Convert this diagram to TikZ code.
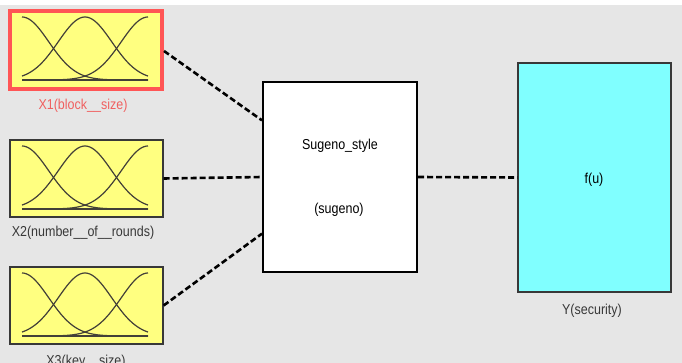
\documentclass[tikz,border=0pt]{standalone}
\usepackage{fontspec}
\setmainfont{Liberation Sans}
\usetikzlibrary{calc}
\definecolor{bg}{HTML}{E6E6E6}
\definecolor{mfyellow}{HTML}{FFFF80}
\definecolor{outcyan}{HTML}{80FFFF}
\definecolor{selred}{HTML}{FF5555}
\definecolor{labred}{HTML}{F06060}
\definecolor{labgray}{HTML}{383838}
\newcommand{\tallt}[1]{\scalebox{1}[1.15]{#1}}
\begin{document}
\begin{tikzpicture}[x=1pt,y=-1pt,
  inbox/.style={draw=labgray,line width=1.2pt,fill=mfyellow,minimum width=153pt,minimum height=77pt,inner sep=0pt},
  selbox/.style={draw=selred,line width=4pt,fill=mfyellow,minimum width=152pt,minimum height=78pt,inner sep=0pt},
  rulebox/.style={draw=black,line width=2pt,fill=white,minimum width=154pt,minimum height=190pt,inner sep=0pt},
  outbox/.style={draw=labgray,line width=1.5pt,fill=outcyan,minimum width=153pt,minimum height=229pt,inner sep=0pt},
  lab/.style={font=\fontsize{12.5}{14}\selectfont,inner sep=0pt},
  conn/.style={line width=2.6pt,dash pattern=on 6pt off 3pt},
  mf/.style={line width=1.2pt,black!85!yellow}]
\useasboundingbox (0,0) rectangle (682,363);
\fill[white] (0,0) rectangle (682,363);
\fill[bg] (0,5) rectangle (682,363);
\begin{scope}
\clip (0,0) rectangle (682,363);
% boxes
\node[selbox] (x1) at (86,50) {};
\node[inbox] (x2) at (86.5,178.5) {};
\node[inbox] (x3) at (86.5,305.5) {};
\node[rulebox] (rule) at (340,177) {};
\node[outbox] (y) at (594.5,177.5) {};
% membership functions
\foreach \bx/\by in {22/80, 22/209, 22/336}{
  \foreach \c in {0,63,126}{
    \draw[mf] plot[domain=0:126,samples=60,smooth] ({\bx+\x},{\by-63*exp(-0.5*((\x-\c)/26.75)^2)});
  }
  \draw[line width=1.8pt,black!85!yellow] (\bx,\by) -- (\bx+126,\by);
}
% labels
\node[lab,text=labred] (l1) at (83,106) {\tallt{X1(block\_\_size)}};
\node[lab,text=labgray] (l2) at (83,233) {\tallt{X2(number\_\_of\_\_rounds)}};
\node[lab,text=labgray] (l3) at (86,362) {\tallt{X3(key\_\_size)}};
\node[lab,text=labgray] (ly) at (592,311) {\tallt{Y(security)}};
\node[lab] (t1) at (340,146) {\tallt{Sugeno\_style}};
\node[lab] (t2) at (339,210) {\tallt{(sugeno)}};
\node[lab] (fu) at (594,180) {\tallt{f(u)}};
% ports
\coordinate (p1) at ($(rule.north west)!0.205!(rule.south west)$);
\coordinate (p2) at (rule.west);
\coordinate (p3) at ($(rule.north west)!0.795!(rule.south west)$);
\coordinate (o1) at ([yshift=-1pt]x1.east);
\coordinate (o3) at (x3.east);
% connectors
\draw[conn] (o1) -- (p1);
\draw[conn] (x2.east) -- (p2);
\draw[conn] (o3) -- (p3);
\draw[conn] (rule.east) -- (y.west);
\end{scope}
\end{tikzpicture}
\end{document}
